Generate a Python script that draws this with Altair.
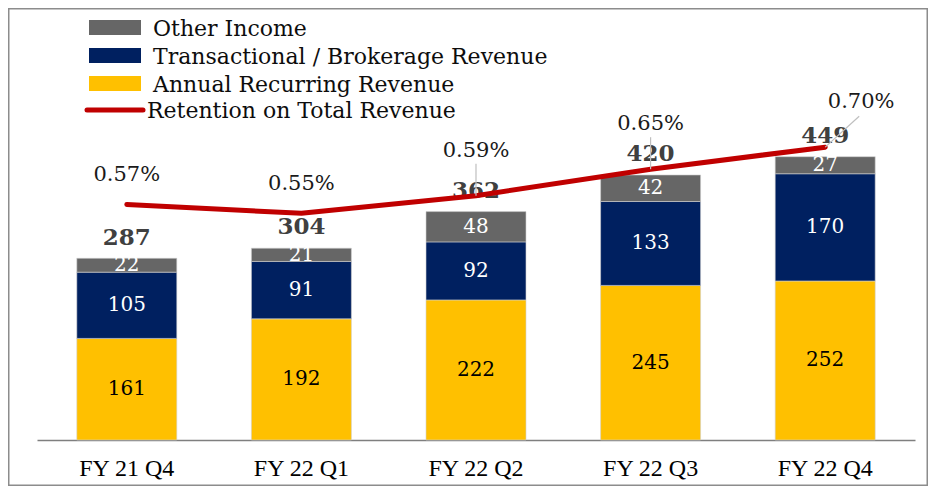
import altair as alt
import pandas as pd

categories = ["FY 21 Q4", "FY 22 Q1", "FY 22 Q2", "FY 22 Q3", "FY 22 Q4"]
annual = [161, 192, 222, 245, 252]
transactional = [105, 91, 92, 133, 170]
other = [22, 21, 48, 42, 27]
totals = [287, 304, 362, 420, 449]
retention = [0.57, 0.55, 0.59, 0.65, 0.70]

series_names = ["Annual Recurring Revenue", "Transactional / Brokerage Revenue", "Other Income"]
series_colors = ["#FFC000", "#002060", "#666666"]

rows = []
for i, c in enumerate(categories):
    for k, vals in enumerate([annual, transactional, other]):
        rows.append({"cat": c, "series": series_names[k], "idx": k, "amount": vals[i]})
seg = pd.DataFrame(rows)
tot = pd.DataFrame({"cat": categories, "total": totals})
ret = pd.DataFrame({"cat": categories, "ret": retention, "i": list(range(len(categories)))})

W, H = 878, 430
SERIF = "DejaVu Serif"

xscale = alt.Scale(paddingInner=0.4273, paddingOuter=0.228)
x_axis = alt.X("cat:N", sort=categories, scale=xscale,
               axis=alt.Axis(title=None, labelAngle=0))
x_na = x_axis

yL = alt.Scale(domain=[0, 681.5], nice=False, zero=False)
yR = alt.Scale(domain=[0.036, 1.011], nice=False, zero=False)

bars = alt.Chart(seg).mark_bar(stroke="#d0d0d0", strokeWidth=0.6).encode(
    x=x_axis,
    y=alt.Y("amount:Q", stack="zero", scale=yL, axis=None),
    color=alt.Color("series:N", scale=alt.Scale(domain=series_names, range=series_colors), legend=None),
    order=alt.Order("idx:Q", sort="ascending"),
)

seg_base = alt.Chart(seg).transform_stack(
    stack="amount", groupby=["cat"], as_=["y0", "y1"],
    sort=[alt.SortField("idx", order="ascending")]
).transform_calculate(mid="(datum.y0 + datum.y1) / 2")

seg_white = seg_base.transform_filter("datum.idx >= 1").mark_text(
    font=SERIF, fontSize=20, baseline="middle", color="#ffffff"
).encode(x=x_na, y=alt.Y("mid:Q", scale=yL, axis=None), text="amount:Q")

seg_black = seg_base.transform_filter("datum.idx == 0").mark_text(
    font=SERIF, fontSize=20, baseline="middle", color="#000000"
).encode(x=x_na, y=alt.Y("mid:Q", scale=yL, axis=None), text="amount:Q")

tot_text = alt.Chart(tot).mark_text(
    font=SERIF, fontSize=23, fontWeight="bold", color="#404040", baseline="alphabetic", dy=-14
).encode(x=x_na, y=alt.Y("total:Q", scale=yL, axis=None), text="total:Q")

left = alt.layer(bars, seg_white, seg_black, tot_text)

ret_base = alt.Chart(ret).transform_calculate(lbl="format(datum.ret, '.2f') + '%'")

line = alt.Chart(ret).mark_line(
    color="#C00000", strokeWidth=5, strokeCap="round", strokeJoin="round"
).encode(x=x_na, y=alt.Y("ret:Q", scale=yR, axis=None))

lead_v = alt.Chart(ret).transform_filter("datum.i == 2 || datum.i == 3").mark_point(
    shape="M0,0L0,-1", size=4096, filled=False, color="#bfbfbf", strokeWidth=1.2, opacity=1
).encode(x=x_na, y=alt.Y("ret:Q", scale=yR, axis=None))

lead_d = alt.Chart(ret).transform_filter("datum.i == 4").mark_point(
    shape="M0,0L1,-0.91", size=4624, filled=False, color="#bfbfbf", strokeWidth=1.2, opacity=1
).encode(x=x_na, y=alt.Y("ret:Q", scale=yR, axis=None))

pct_a = ret_base.transform_filter("datum.i < 2").mark_text(
    font=SERIF, fontSize=21, color="#1a1a1a", baseline="alphabetic", dy=-23
).encode(x=x_na, y=alt.Y("ret:Q", scale=yR, axis=None), text="lbl:N")

pct_b = ret_base.transform_filter("datum.i == 2 || datum.i == 3").mark_text(
    font=SERIF, fontSize=21, color="#1a1a1a", baseline="alphabetic", dy=-39
).encode(x=x_na, y=alt.Y("ret:Q", scale=yR, axis=None), text="lbl:N")

pct_c = ret_base.transform_filter("datum.i == 4").mark_text(
    font=SERIF, fontSize=21, color="#1a1a1a", baseline="alphabetic", dy=-39, dx=36
).encode(x=x_na, y=alt.Y("ret:Q", scale=yR, axis=None), text="lbl:N")

right = alt.layer(line, lead_v, lead_d, pct_a, pct_b, pct_c)

# legend
legend_layers = []
legend_order = ["Other Income", "Transactional / Brokerage Revenue", "Annual Recurring Revenue"]
legend_cols = {n: c for n, c in zip(series_names, series_colors)}
for r, name in enumerate(legend_order):
    d = pd.DataFrame({"name": [name]})
    legend_layers.append(
        alt.Chart(d).mark_rect(color=legend_cols[name]).encode(
            x=alt.value(52), x2=alt.value(104),
            y=alt.value(10 + 28 * r), y2=alt.value(25 + 28 * r))
    )
    legend_layers.append(
        alt.Chart(d).mark_text(font=SERIF, fontSize=22, align="left", baseline="alphabetic",
                               color="#0d0d0d").encode(
            x=alt.value(116), y=alt.value(26 + 28 * r), text="name:N")
    )
dl = pd.DataFrame({"name": ["Retention on Total Revenue"]})
legend_layers.append(
    alt.Chart(dl).mark_rule(color="#C00000", strokeWidth=5, strokeCap="round").encode(
        x=alt.value(50), x2=alt.value(106), y=alt.value(100))
)
legend_layers.append(
    alt.Chart(dl).mark_text(font=SERIF, fontSize=22, align="left", baseline="alphabetic",
                            color="#0d0d0d").encode(
        x=alt.value(110), y=alt.value(108), text="name:N")
)

frame = alt.Chart(dl).mark_rect(fill=None, fillOpacity=0, stroke="#8c8c8c", strokeWidth=1.5).encode(
    x=alt.value(-28.25), x2=alt.value(W + 12.25), y=alt.value(-1.25), y2=alt.value(H + 45.25)
)

chart = alt.layer(left, right, *legend_layers, frame).resolve_scale(
    y="independent"
).properties(
    width=W, height=H,
    padding={"left": 29, "top": 2, "right": 13, "bottom": 46},
    autosize=alt.AutoSizeParams(type="none"),
).configure_view(stroke=None).configure_axis(
    grid=False,
).configure_axisX(
    domainColor="#7f7f7f", domainWidth=1.5, ticks=False,
    labelFont="Liberation Serif", labelFontSize=24, labelColor="#000000", labelPadding=16,
)

chart.save("out.html", embed_options={"renderer": "svg", "actions": False})
